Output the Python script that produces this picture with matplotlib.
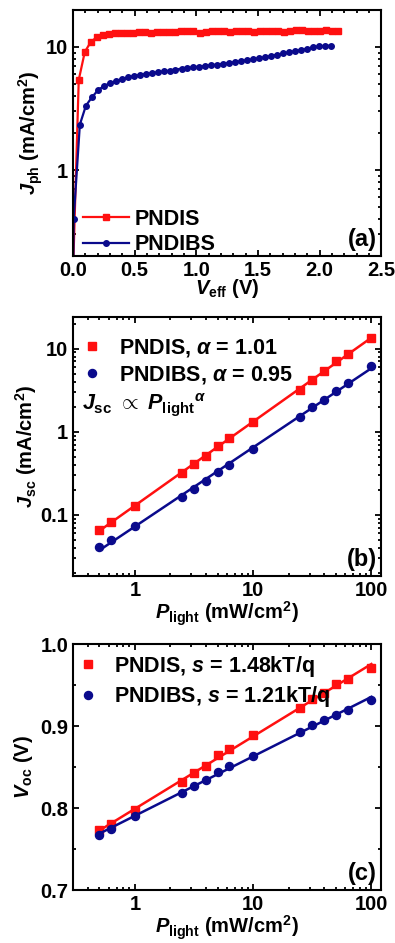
import matplotlib
matplotlib.use("Agg")
import matplotlib.pyplot as plt
import numpy as np
from matplotlib.ticker import LogLocator, MultipleLocator, NullFormatter, FixedLocator, FormatStrFormatter

plt.rcParams["font.family"] = ["Liberation Sans", "DejaVu Sans"]
plt.rcParams["font.weight"] = "bold"
plt.rcParams["mathtext.fontset"] = "custom"
plt.rcParams["mathtext.rm"] = "Liberation Sans:bold"
plt.rcParams["mathtext.bf"] = "Liberation Sans:bold"
plt.rcParams["mathtext.it"] = "Liberation Sans:bold:italic"
plt.rcParams["axes.linewidth"] = 1.5

RED = "#ff1010"
BLUE = "#0a0a8c"

# (a) photocurrent vs effective voltage
veff_pndis = [0.0, 0.046, 0.095, 0.144, 0.193, 0.242, 0.291, 0.340, 0.389, 0.438,
              0.487, 0.536, 0.585, 0.634, 0.683, 0.732, 0.781, 0.830, 0.879, 0.928,
              0.977, 1.026, 1.075, 1.124, 1.173, 1.222, 1.271, 1.320, 1.369, 1.418,
              1.467, 1.516, 1.565, 1.614, 1.663, 1.712, 1.761, 1.810, 1.859, 1.908,
              1.957, 2.006, 2.055, 2.104, 2.153]
jph_pndis = [0.15, 5.4, 9.1, 11.0, 12.0, 12.5, 12.8, 13.1, 13.0, 12.9,
             13.1, 13.3, 13.2, 13.1, 13.2, 13.3, 13.3, 13.3, 13.4, 13.5,
             13.4, 13.1, 13.3, 13.4, 13.5, 13.4, 13.3, 13.4, 13.5, 13.4,
             13.3, 13.4, 13.6, 13.6, 13.4, 13.3, 13.5, 13.8, 13.7, 13.5,
             13.5, 13.6, 13.7, 13.5, 13.6]
veff_pndibs = [0.0, 0.005, 0.055, 0.104, 0.152, 0.201, 0.249, 0.298, 0.346, 0.395,
               0.443, 0.492, 0.540, 0.589, 0.637, 0.686, 0.734, 0.783, 0.831, 0.880,
               0.928, 0.977, 1.025, 1.074, 1.122, 1.171, 1.219, 1.268, 1.316, 1.365,
               1.413, 1.462, 1.510, 1.559, 1.607, 1.656, 1.704, 1.753, 1.801, 1.850,
               1.898, 1.947, 1.995, 2.044, 2.092]
jph_pndibs = [0.1, 0.40, 2.34, 3.33, 3.89, 4.44, 4.81, 5.06, 5.28, 5.48,
              5.65, 5.80, 5.92, 6.02, 6.12, 6.22, 6.32, 6.42, 6.55, 6.66,
              6.75, 6.84, 6.92, 7.02, 7.10, 7.20, 7.30, 7.42, 7.54, 7.66,
              7.80, 7.95, 8.10, 8.25, 8.45, 8.65, 8.85, 9.05, 9.25, 9.45,
              9.65, 9.95, 10.1, 10.2, 10.25]

# (b), (c) light intensity dependence
p_light = [0.5, 0.63, 1, 2.5, 3.16, 4, 5, 6.3, 10, 25, 31.6, 40, 50, 63, 100]
jsc_pndis = [0.066, 0.082, 0.126, 0.32, 0.41, 0.515, 0.667, 0.84, 1.31,
             3.22, 4.17, 5.35, 7.05, 8.55, 13.55]
jsc_pndibs = [0.0406, 0.050, 0.074, 0.163, 0.203, 0.256, 0.328, 0.40, 0.614,
              1.49, 1.98, 2.44, 3.1, 3.91, 6.14]
voc_pndis = [0.7733, 0.7806, 0.7973, 0.8315, 0.8429, 0.8514, 0.8645, 0.8718, 0.8889,
             0.9227, 0.9333, 0.941, 0.9516, 0.958, 0.9707]
voc_pndibs = [0.7672, 0.7745, 0.7908, 0.8185, 0.8266, 0.8344, 0.8437, 0.851, 0.864,
              0.8934, 0.9015, 0.9072, 0.9141, 0.9194, 0.932]

FS = 14.5
LEG = 15.5
LETTER = 17


def style_axes(ax):
    ax.tick_params(which="both", direction="in", top=True, right=True, labelsize=FS, width=1.3)
    ax.tick_params(which="major", length=4.5)
    ax.tick_params(which="minor", length=2.5)
    for lab in ax.get_xticklabels() + ax.get_yticklabels():
        lab.set_fontweight("bold")


fig = plt.figure(figsize=(3.95, 9.43), dpi=100)
ax_a = fig.add_axes([0.185, 0.7285, 0.780, 0.261])
ax_b = fig.add_axes([0.185, 0.3895, 0.780, 0.2743])
ax_c = fig.add_axes([0.185, 0.0562, 0.780, 0.2606])

# panel (a)
ax_a.plot(veff_pndis, jph_pndis, "-s", color=RED, ms=3.8, lw=1.6, label="PNDIS")
ax_a.plot(veff_pndibs, jph_pndibs, "-o", color=BLUE, ms=4.0, lw=1.6, label="PNDIBS")
ax_a.set_yscale("log")
ax_a.set_xlim(0, 2.5)
ax_a.set_ylim(0.2, 20)
ax_a.xaxis.set_major_locator(MultipleLocator(0.5))
ax_a.xaxis.set_minor_locator(MultipleLocator(0.1))
ax_a.yaxis.set_major_locator(FixedLocator([1, 10]))
ax_a.set_yticklabels(["1", "10"])
ax_a.yaxis.set_minor_locator(LogLocator(base=10, subs=np.arange(2, 10)))
ax_a.yaxis.set_minor_formatter(NullFormatter())
ax_a.set_xlabel(r"$\mathit{V}_{\mathrm{eff}}$ (V)", fontsize=FS, fontweight="bold", labelpad=-2)
ax_a.set_ylabel(r"$\mathit{J}_{\mathrm{ph}}$ (mA/cm$^{\mathrm{2}}$)", fontsize=FS, fontweight="bold", labelpad=1)
ax_a.legend(loc="lower left", bbox_to_anchor=(-0.005, -0.045), frameon=False, numpoints=1,
            handlelength=2.1, handletextpad=0.3, borderaxespad=0.15, labelspacing=0.2,
            prop={"weight": "bold", "size": LEG})
ax_a.text(0.985, 0.02, "(a)", transform=ax_a.transAxes, ha="right", va="bottom",
          fontsize=LETTER, fontweight="bold")
style_axes(ax_a)

# panel (b)
x_log = np.log10(p_light)
fit_x = np.array([min(p_light), max(p_light)])
for y, color, marker, ms, lab in [
    (jsc_pndis, RED, "s", 5.4, r"PNDIS, $\mathit{\alpha}$ = 1.01"),
    (jsc_pndibs, BLUE, "o", 5.8, r"PNDIBS, $\mathit{\alpha}$ = 0.95"),
]:
    k, b = np.polyfit(x_log, np.log10(y), 1)
    ax_b.plot(fit_x, 10 ** (k * np.log10(fit_x) + b), "-", color=color, lw=1.8)
    ax_b.plot(p_light, y, marker, color=color, ms=ms, ls="none", label=lab)
ax_b.set_xscale("log")
ax_b.set_yscale("log")
ax_b.set_xlim(0.3, 121)
ax_b.set_ylim(0.0185, 24)
ax_b.xaxis.set_major_locator(FixedLocator([1, 10, 100]))
ax_b.set_xticklabels(["1", "10", "100"])
ax_b.yaxis.set_major_locator(FixedLocator([0.1, 1, 10]))
ax_b.set_yticklabels(["0.1", "1", "10"])
for axis in (ax_b.xaxis, ax_b.yaxis):
    axis.set_minor_locator(LogLocator(base=10, subs=np.arange(2, 10)))
    axis.set_minor_formatter(NullFormatter())
ax_b.set_xlabel(r"$\mathit{P}_{\mathrm{light}}$ (mW/cm$^{\mathrm{2}}$)", fontsize=FS, fontweight="bold", labelpad=0)
ax_b.set_ylabel(r"$\mathit{J}_{\mathrm{sc}}$ (mA/cm$^{\mathrm{2}}$)", fontsize=FS, fontweight="bold", labelpad=1)
ax_b.legend(loc="upper left", bbox_to_anchor=(-0.012, 0.96), frameon=False, numpoints=1,
            handlelength=1.2, handletextpad=0.65, borderaxespad=0.05, labelspacing=0.25,
            prop={"weight": "bold", "size": LEG})
ax_b.text(0.03, 0.662, r"$\mathit{J}_{\mathrm{sc}}$ $\propto$ $\mathit{P}_{\mathrm{light}}{}^{\mathit{\alpha}}$",
          transform=ax_b.transAxes, ha="left", va="center", fontsize=LEG, fontweight="bold")
ax_b.text(0.985, 0.02, "(b)", transform=ax_b.transAxes, ha="right", va="bottom",
          fontsize=LETTER, fontweight="bold")
style_axes(ax_b)

# panel (c)
for y, color, marker, ms, lab in [
    (voc_pndis, RED, "s", 5.4, r"PNDIS, $\mathit{s}$ = 1.48kT/q"),
    (voc_pndibs, BLUE, "o", 5.8, r"PNDIBS, $\mathit{s}$ = 1.21kT/q"),
]:
    k, b = np.polyfit(x_log, y, 1)
    ax_c.plot(fit_x, k * np.log10(fit_x) + b, "-", color=color, lw=1.8)
    ax_c.plot(p_light, y, marker, color=color, ms=ms, ls="none", label=lab)
ax_c.set_xscale("log")
ax_c.set_xlim(0.3, 121)
ax_c.set_ylim(0.7, 1.0)
ax_c.xaxis.set_major_locator(FixedLocator([1, 10, 100]))
ax_c.set_xticklabels(["1", "10", "100"])
ax_c.xaxis.set_minor_locator(LogLocator(base=10, subs=np.arange(2, 10)))
ax_c.xaxis.set_minor_formatter(NullFormatter())
ax_c.yaxis.set_major_locator(MultipleLocator(0.1))
ax_c.yaxis.set_minor_locator(MultipleLocator(0.05))
ax_c.yaxis.set_major_formatter(FormatStrFormatter("%.1f"))
ax_c.set_xlabel(r"$\mathit{P}_{\mathrm{light}}$ (mW/cm$^{\mathrm{2}}$)", fontsize=FS, fontweight="bold", labelpad=0)
ax_c.set_ylabel(r"$\mathit{V}_{\mathrm{oc}}$ (V)", fontsize=FS, fontweight="bold", labelpad=4)
ax_c.legend(loc="upper left", bbox_to_anchor=(-0.025, 1.0), frameon=False, numpoints=1,
            handlelength=1.2, handletextpad=0.6, borderaxespad=0.05, labelspacing=0.25,
            prop={"weight": "bold", "size": LEG})
ax_c.text(0.985, 0.02, "(c)", transform=ax_c.transAxes, ha="right", va="bottom",
          fontsize=LETTER, fontweight="bold")
style_axes(ax_c)

fig.savefig("out.png", dpi=100)
